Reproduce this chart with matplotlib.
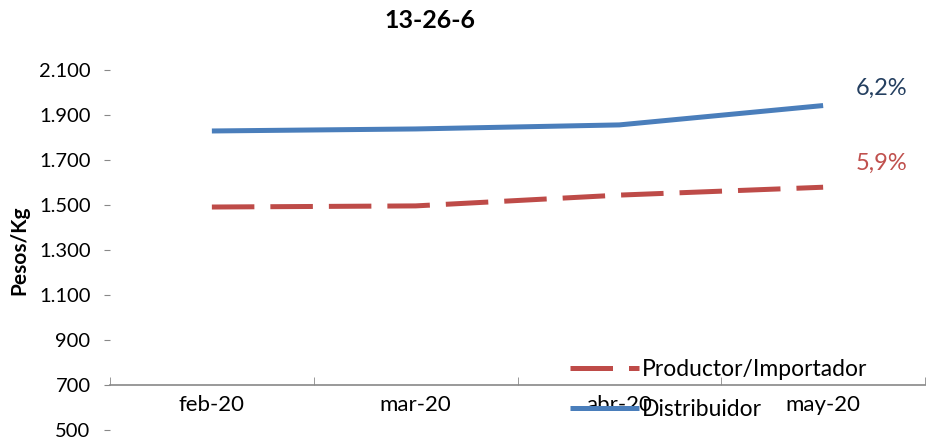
import matplotlib
matplotlib.use("Agg")
import matplotlib.pyplot as plt
from matplotlib.ticker import FuncFormatter

plt.rcParams['font.family'] = ['Lato', 'DejaVu Sans']

# data
months = ['feb-20', 'mar-20', 'abr-20', 'may-20']
productor = [1491, 1496, 1544, 1579]
distribuidor = [1829, 1838, 1856, 1942]
var_productor = '5,9%'
var_distribuidor = '6,2%'
y_ticks = [500, 700, 900, 1100, 1300, 1500, 1700, 1900, 2100]

blue = '#4A7EBB'
red = '#BE4B48'

fig = plt.figure(figsize=(9.27, 4.41), dpi=100)
ax = fig.add_axes([110 / 927, 1 - 430 / 441, 815 / 927, 360 / 441])

x = list(range(len(months)))
ax.plot(x, productor, color=red, lw=3.6, dashes=(8.5, 3.2),
        solid_capstyle='butt', dash_capstyle='butt', label='Productor/Importador')
ax.plot(x, distribuidor, color=blue, lw=3.6, solid_capstyle='butt',
        label='Distribuidor')

ax.set_xlim(-0.5, 3.5)
ax.set_ylim(500, 2100)
ax.set_yticks(y_ticks)
ax.yaxis.set_major_formatter(FuncFormatter(lambda v, p: f'{int(v):,}'.replace(',', '.')))

ax.set_xticks(x)
ax.set_xticklabels(months)
ax.set_xticks([-0.5, 0.5, 1.5, 2.5, 3.5], minor=True)
ax.tick_params(axis='x', which='major', length=0, labelsize=16, pad=7, colors='black')
ax.tick_params(axis='x', which='minor', length=6, direction='in', color='#888888')
ax.tick_params(axis='y', length=4, color='#888888', labelsize=14.5, pad=10)

for s in ['top', 'right', 'left']:
    ax.spines[s].set_visible(False)
ax.spines['bottom'].set_position(('data', 700))
ax.spines['bottom'].set_color('#888888')
ax.spines['bottom'].set_linewidth(1.2)

ax.text(3.16, 2020, var_distribuidor, color='#243F60', fontsize=17,
        ha='left', va='center')
ax.text(3.16, 1687, var_productor, color='#C0504D', fontsize=17,
        ha='left', va='center')

fig.text(430 / 927, 1 - 20 / 441, '13-26-6', fontsize=18, fontweight='bold',
         ha='center', va='center')
fig.text(19 / 927, 1 - 250 / 441, 'Pesos/Kg', fontsize=15, fontweight='bold',
         rotation=90, ha='center', va='center')

fig.legend(loc='lower left', bbox_to_anchor=(561 / 927, 1 - 429 / 441),
           frameon=False, fontsize=16.5, handlelength=3.0, handletextpad=0.15,
           labelspacing=0.8, borderaxespad=0)

fig.savefig('out.png', dpi=100)
